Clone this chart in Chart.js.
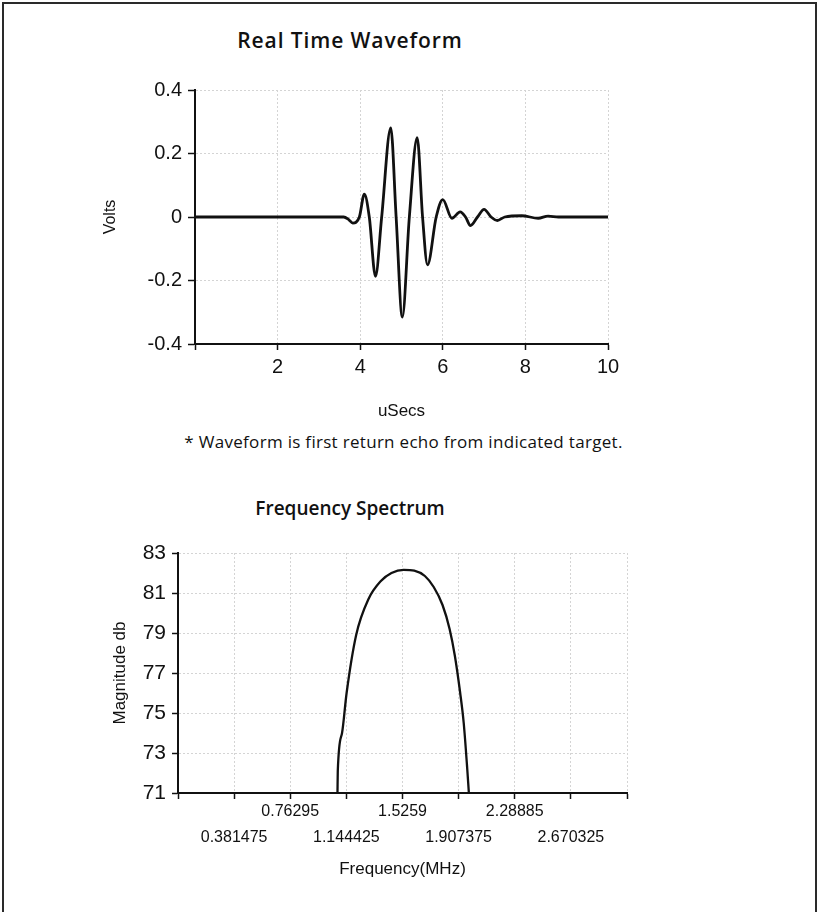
<!DOCTYPE html>
<html>
<head>
<meta charset="utf-8">
<script src="https://cdn.jsdelivr.net/npm/chart.js@4.4.1/dist/chart.umd.min.js"></script>
<style>
  html, body { margin: 0; padding: 0; background: #fff; }
  body { width: 817px; height: 912px; position: relative; overflow: hidden; }
  .frame { position: absolute; left: 2px; top: 2px; width: 811px; height: 920px;
           border: 2px solid #2a2a2a; border-bottom: none; }
  .box { position: absolute; left: 0; width: 817px; }
  .heading { position: absolute; left: 0; width: 700px; text-align: center;
             font-family: "Open Sans", Lato, sans-serif; font-weight: 600; color: #111; }
  .note { position: absolute; left: 0; width: 817px; text-align: center;
          font-family: "Open Sans", Lato, sans-serif; font-size: 17px; letter-spacing: 0.3px; color: #111; }
</style>
</head>
<body>
<div class="frame"></div>
<div class="heading" style="top:26px;font-size:21px;letter-spacing:0.9px;">Real Time Waveform</div>
<div class="box" style="top:0;height:425px;"><canvas id="wave"></canvas></div>
<div class="note" style="top:430px;left:-5px;">* Waveform is first return echo from indicated target.</div>
<div class="heading" style="top:495px;font-size:19px;">Frequency Spectrum</div>
<div class="box" style="top:460px;height:420px;"><canvas id="spec"></canvas></div>

<script>
// ---------- Real Time Waveform data ----------
const waveTime = [0, 1, 2, 3, 3.6, 3.72, 3.82, 3.98, 4.10, 4.22, 4.37, 4.52, 4.74, 4.87, 5.02, 5.19, 5.38, 5.51, 5.63, 5.84, 6.00, 6.22, 6.42, 6.55, 6.67, 6.84, 7.00, 7.17, 7.32, 7.5, 7.91, 8.31, 8.55, 8.8, 9.2, 9.6, 10];
const waveVolts = [0, 0, 0, 0, 0, -0.008, -0.019, 0, 0.072, 0, -0.187, 0, 0.281, 0, -0.315, 0, 0.25, 0, -0.151, 0, 0.055, -0.004, 0.016, 0, -0.027, 0, 0.024, 0, -0.011, 0, 0.004, -0.004, 0.003, 0, 0, 0, 0];
const waveXTicks = [0, 2, 4, 6, 8, 10];
const waveXTickLabels = ['', '2', '4', '6', '8', '10'];
const waveYTicks = [-0.4, -0.2, 0, 0.2, 0.4];
const waveYTickLabels = ['-0.4', '-0.2', '0', '0.2', '0.4'];

// ---------- Frequency Spectrum data ----------
const specFreq = [1.084, 1.086, 1.115, 1.146, 1.211, 1.295, 1.379, 1.451, 1.534, 1.606, 1.678, 1.738, 1.798, 1.846, 1.882, 1.918, 1.942, 1.966, 1.977];
const specDb = [71, 72.1, 74.0, 76.0, 78.9, 80.7, 81.6, 82.0, 82.16, 82.12, 81.85, 81.3, 80.4, 79.2, 77.85, 76.0, 74.5, 72.2, 71];
const specXTicks = [0, 0.381475, 0.76295, 1.144425, 1.5259, 1.907375, 2.28885, 2.670325, 3.0518];
const specXTickLabels = ['', '0.381475', '0.76295', '1.144425', '1.5259', '1.907375', '2.28885', '2.670325', ''];
const specYTicks = [71, 73, 75, 77, 79, 81, 83];
const specYTickLabels = ['71', '73', '75', '77', '79', '81', '83'];

const FONT = '"Liberation Sans", Arial, sans-serif';
const GRID = '#d4d4d4';
const INK = '#111';

function toPoints(xs, ys) { return xs.map((x, i) => ({ x: x, y: ys[i] })); }

new Chart(document.getElementById('wave'), {
  type: 'line',
  data: { datasets: [{
    data: toPoints(waveTime, waveVolts),
    borderColor: INK, borderWidth: 2.8, pointRadius: 0,
    cubicInterpolationMode: 'monotone', fill: false
  }]},
  options: {
    responsive: true, maintainAspectRatio: false, animation: false,
    layout: { padding: { top: 90, right: 209, left: 0, bottom: 0 } },
    plugins: { legend: { display: false }, tooltip: { enabled: false } },
    scales: {
      x: {
        type: 'linear', min: 0, max: 10,
        afterBuildTicks: s => { s.ticks = waveXTicks.map(v => ({ value: v })); },
        afterFit: s => { s.height = 81; },
        ticks: { autoSkip: false, maxRotation: 0, padding: 5, color: INK,
                 font: { family: FONT, size: 20 },
                 callback: (v, i) => waveXTickLabels[i] },
        grid: { color: GRID, lineWidth: 1, tickColor: INK, tickLength: 6, tickWidth: 1.5 },
        border: { color: INK, width: 2, dash: [2, 2] },
        title: { display: true, text: 'uSecs', color: INK, font: { family: FONT, size: 17 },
                 padding: { top: 0, bottom: 3 } }
      },
      y: {
        type: 'linear', min: -0.4, max: 0.4,
        afterBuildTicks: s => { s.ticks = waveYTicks.map(v => ({ value: v })); },
        afterFit: s => { s.width = 195; },
        ticks: { autoSkip: false, padding: 6, color: INK,
                 font: { family: FONT, size: 20 },
                 callback: (v, i) => waveYTickLabels[i] },
        grid: { color: GRID, lineWidth: 1, tickColor: INK, tickLength: 7, tickWidth: 1.5 },
        border: { color: INK, width: 2, dash: [2, 2] },
        title: { display: true, text: 'Volts', color: INK, font: { family: FONT, size: 16 },
                 padding: { top: 101, bottom: 0 } }
      }
    }
  }
});

new Chart(document.getElementById('spec'), {
  type: 'line',
  data: { datasets: [{
    data: toPoints(specFreq, specDb),
    borderColor: INK, borderWidth: 2.3, pointRadius: 0,
    cubicInterpolationMode: 'monotone', fill: false
  }]},
  options: {
    responsive: true, maintainAspectRatio: false, animation: false,
    layout: { padding: { top: 93, right: 190, left: 0, bottom: 0 } },
    plugins: { legend: { display: false }, tooltip: { enabled: false } },
    scales: {
      x: {
        type: 'linear', min: 0, max: 3.0518,
        afterBuildTicks: s => { s.ticks = specXTicks.map(v => ({ value: v })); },
        afterFit: s => { s.height = 87; },
        ticks: { autoSkip: false, maxRotation: 0, minRotation: 0, padding: 0, color: INK,
                 font: { family: FONT, size: 16, lineHeight: 1.6 },
                 callback: (v, i) => (i % 2 === 1 ? ['', specXTickLabels[i]] : specXTickLabels[i]) },
        grid: { color: GRID, lineWidth: 1, tickColor: INK, tickLength: 6, tickWidth: 1.5 },
        border: { color: INK, width: 2, dash: [2, 2] },
        title: { display: true, text: 'Frequency(MHz)', color: INK, font: { family: FONT, size: 17 },
                 padding: { top: 0, bottom: 0 } }
      },
      y: {
        type: 'linear', min: 71, max: 83,
        afterBuildTicks: s => { s.ticks = specYTicks.map(v => ({ value: v })); },
        afterFit: s => { s.width = 178; },
        ticks: { autoSkip: false, padding: 6, color: INK,
                 font: { family: FONT, size: 21 },
                 callback: (v, i) => specYTickLabels[i] },
        grid: { color: GRID, lineWidth: 1, tickColor: INK, tickLength: 6, tickWidth: 1.5 },
        border: { color: INK, width: 2, dash: [2, 2] },
        title: { display: true, text: 'Magnitude db', color: INK, font: { family: FONT, size: 17 },
                 padding: { top: 110, bottom: 0 } }
      }
    }
  }
});
</script>
</body>
</html>
